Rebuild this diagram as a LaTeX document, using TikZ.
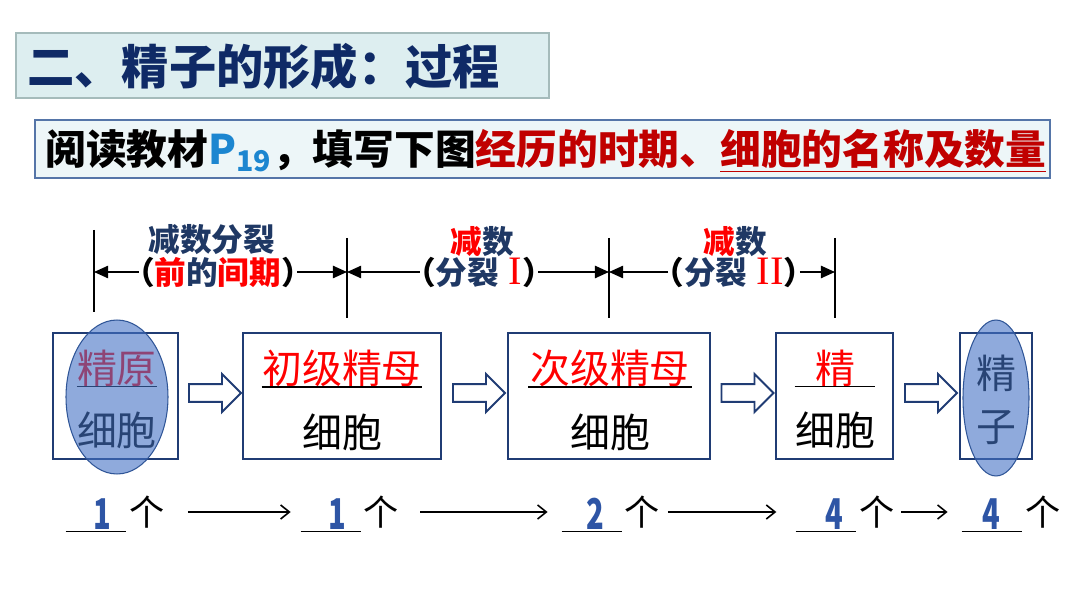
\documentclass[tikz,border=0pt]{standalone}
\usepackage{fontspec}
\setmainfont{Noto Sans CJK SC}
\newfontfamily\romannum{Liberation Serif}
\usetikzlibrary{arrows.meta,calc,shapes.arrows}
\definecolor{navy}{HTML}{1F3864}
\definecolor{boxblue}{HTML}{203C74}
\definecolor{titleblue}{HTML}{0F2A66}
\definecolor{darkred}{HTML}{C00000}
\definecolor{pblue}{HTML}{1C86D0}
\definecolor{numblue}{HTML}{2E55A5}
\definecolor{ovalblue}{HTML}{4472C4}
\definecolor{ovalline}{HTML}{2F5597}
\definecolor{titlefill}{HTML}{DDEEF0}
\definecolor{titleline}{HTML}{A5BBBB}
\definecolor{taskfill}{HTML}{EDF6F8}
\definecolor{taskline}{HTML}{5575A8}
\tikzset{
  cellbox/.style={draw=boxblue, line width=1.1pt, minimum height=2.52cm},
  celltop/.style={inner sep=0pt, text=red, font=\fontsize{22.7}{24}\selectfont},
  cellbot/.style={inner sep=0pt, font=\fontsize{22.7}{24}\selectfont},
  fillline/.style={line width=0.9pt},
  hollowarr/.style={single arrow, draw=boxblue, fill=white, line width=1.1pt, minimum height=1.04cm,
    inner xsep=0pt, inner ysep=0.16cm, single arrow head extend=0.2cm},
  cellmark/.style={fill=ovalblue, fill opacity=0.6, draw=ovalline, line width=0.6pt},
  stageline/.style={line width=1.1pt},
  spanarr/.style={line width=0.9pt, shorten <=-9pt, -{Triangle[length=8pt,width=7pt]}},
  phasetxt/.style={inner sep=0pt, text=navy, font=\bfseries\fontsize{18}{20}\selectfont},
  blankbox/.style={minimum width=1.2cm, minimum height=0.72cm, inner sep=0pt},
  numtxt/.style={inner sep=0pt, text=numblue, font=\bfseries\fontsize{23}{24}\selectfont},
  unittxt/.style={inner sep=0pt, font=\fontsize{20}{22}\selectfont},
  tallyarr/.style={line width=0.9pt, -{Straight Barb[length=5pt,width=8pt]}}
}
\newcommand{\stagenum}[1]{{\romannum\mdseries\fontsize{23}{24}\selectfont\color{red}#1}}
\begin{document}
\begin{tikzpicture}[x=0.02cm,y=-0.02cm]
  \useasboundingbox (0,0) rectangle (1080,608);
  % title
  \node[draw=titleline, fill=titlefill, line width=0.8pt, minimum width=10.66cm, minimum height=1.3cm] (ttl) at (282.5,65.5) {};
  \node[anchor=west, inner sep=0pt, text=titleblue, font=\bfseries\fontsize{26.9}{30}\selectfont] (ttltxt) at (27,66) {二、精子的形成：过程};
  \node[draw=taskline, fill=taskfill, line width=0.9pt, minimum width=20.3cm, minimum height=1.16cm] (task) at (542.5,149) {};
  \node[anchor=west, inner sep=0pt, font=\bfseries\fontsize{23.2}{25}\selectfont] (tasktxt) at (45,151)
    {阅读教材\textcolor{pblue}{P\textsubscript{19}}，填写下图\textcolor{darkred}{经历的时期、\underline{细胞的名称及数量}}};

  % line
  \coordinate (v1t) at (94,230); \coordinate (v1b) at (94,312);
  \coordinate (v2t) at (347,238); \coordinate (v2b) at (347,318);
  \coordinate (v3t) at (609,238); \coordinate (v3b) at (609,318);
  \coordinate (v4t) at (835,238); \coordinate (v4b) at (835,318);
  \draw[stageline] (v1t) -- (v1b);\draw[stageline] (v2t) -- (v2b);
  \draw[stageline] (v3t) -- (v3b);\draw[stageline] (v4t) -- (v4b);

  % periods
  \node[phasetxt] (up1) at (212,240) {减数分裂};
  \node[phasetxt] (lo1) at (218,272) {{\color{black}（}\textcolor{red}{前}的\textcolor{red}{间期}{\color{black}）}};
  \node[phasetxt] (up2) at (482,242) {\textcolor{red}{减}数};
  \node[phasetxt] (lo2) at (479,272) {{\color{black}（}分裂\hspace{0.3em}\stagenum{I}{\color{black}）}};
  \node[phasetxt] (up3) at (735,242) {\textcolor{red}{减}数};
  \node[phasetxt] (lo3) at (734,272) {{\color{black}（}分裂\hspace{0.3em}\stagenum{II}{\color{black}）}};
  \draw[spanarr] (lo1.west) -- (lo1.west -| v1t);
  \draw[spanarr] (lo1.east) -- (lo1.east -| v2t);
  \draw[spanarr] (lo2.west) -- (lo2.west -| v2t);
  \draw[spanarr] (lo2.east) -- (lo2.east -| v3t);
  \draw[spanarr] (lo3.west) -- (lo3.west -| v3t);
  \draw[spanarr] (lo3.east) -- (lo3.east -| v4t);

  % cells
  \node[cellbox, minimum width=2.5cm] (b1) at (115.5,396) {};
  \node[cellbox, minimum width=3.96cm] (b2) at (342,396) {};
  \node[cellbox, minimum width=4.04cm] (b3) at (609,396) {};
  \node[cellbox, minimum width=2.34cm] (b4) at (834.5,396) {};
  \node[cellbox, minimum width=1.44cm] (b5) at (996,396) {};
  \node[celltop, minimum width=1.56cm] (t1) at (117,368) {精原};
  \node[celltop, minimum width=3.2cm] (t2) at (342,368) {初级精母};
  \node[celltop, minimum width=3.26cm] (t3) at (610,368) {次级精母};
  \node[celltop, minimum width=1.6cm] (t4) at (835,368) {精};
  \node[cellbot] (c1) at (117,430) {细胞};
  \node[cellbot] (c2) at (342,432) {细胞};
  \node[cellbot] (c3) at (610,432) {细胞};
  \node[cellbot] (c4) at (835,430) {细胞};
  \node[cellbot] (t5) at (996,373) {精};
  \node[cellbot] (c5) at (996,428) {子};
  \draw[fillline] (t1.south west) -- (t1.south east);
  \draw[fillline] (t2.south west) -- (t2.south east);
  \draw[fillline] (t3.south west) -- (t3.south east);
  \draw[fillline] (t4.south west) -- (t4.south east);
  \node[hollowarr] (a1) at ($(b1.east)!0.5!(b2.west)+(0,-3)$) {};
  \node[hollowarr] (a2) at ($(b2.east)!0.5!(b3.west)+(0,-3)$) {};
  \node[hollowarr] (a3) at ($(b3.east)!0.5!(b4.west)+(0,-3)$) {};
  \node[hollowarr] (a4) at ($(b4.east)!0.5!(b5.west)+(0,-3)$) {};
  \draw[cellmark] (117,397) ellipse [x radius=1.02cm, y radius=1.54cm];
  \draw[cellmark] (996,398) ellipse [x radius=0.66cm, y radius=1.56cm];

  % numbers
  \node[blankbox] (k1) at (96,513) {};\node[blankbox] (k2) at (331,513) {};
  \node[blankbox] (k3) at (592,513) {};\node[blankbox] (k4) at (826,513) {};
  \node[blankbox] (k5) at (992,513) {};
  \foreach \k in {1,...,5} \draw[fillline] (k\k.south west) -- (k\k.south east);
  \node[numtxt] (m1) at (102,514) {\scalebox{0.72}[1.05]{1}};\node[numtxt] (m2) at (337,514) {\scalebox{0.72}[1.05]{1}};
  \node[numtxt] (m3) at (595,514) {\scalebox{0.72}[1.05]{2}};\node[numtxt] (m4) at (834,514) {\scalebox{0.72}[1.05]{4}};
  \node[numtxt] (m5) at (991,514) {\scalebox{0.72}[1.05]{4}};
  \node[unittxt] (g1) at (147,512) {个};\node[unittxt] (g2) at (381,512) {个};
  \node[unittxt] (g3) at (642,512) {个};\node[unittxt] (g4) at (877,512) {个};
  \node[unittxt] (g5) at (1043,512) {个};
  \draw[tallyarr, yshift=2pt, shorten <=13pt, shorten >=5.7pt] (g1.east) -- (g1.east -| k2.west);
  \draw[tallyarr, yshift=2pt, shorten <=12pt, shorten >=8pt] (g2.east) -- (g2.east -| k3.west);
  \draw[tallyarr, yshift=2pt, shorten <=4.5pt, shorten >=11pt] (g3.east) -- (g3.east -| k4.west);
  \draw[tallyarr, yshift=2pt, shorten <=3.5pt, shorten >=8pt] (g4.east) -- (g4.east -| k5.west);
\end{tikzpicture}
\end{document}
